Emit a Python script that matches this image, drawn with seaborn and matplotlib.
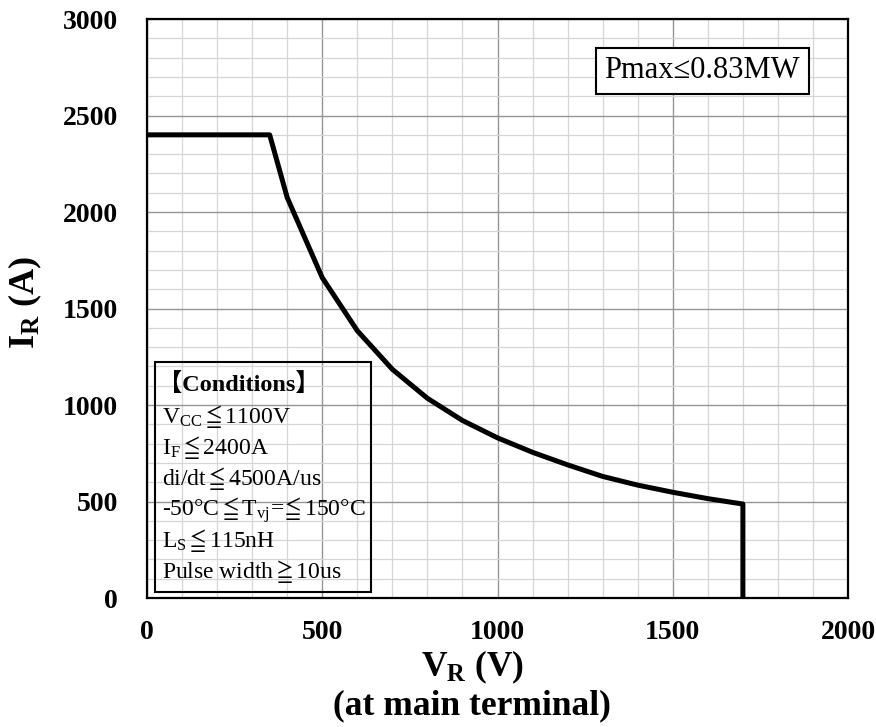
import matplotlib
matplotlib.use("Agg")
import matplotlib.pyplot as plt
import numpy as np
import pandas as pd
import seaborn as sns
from matplotlib.ticker import MultipleLocator
from matplotlib.patches import Rectangle

# ---- data ----
voltage_v = [0, 350, 400, 500, 600, 700, 800, 900, 1000, 1100, 1200, 1300, 1400, 1500, 1600, 1700, 1700]
current_a = [2400, 2400, 2075, 1660, 1385, 1185, 1035, 920, 830, 755, 690, 630, 585, 548, 515, 487, 0]
x_ticks = [0, 500, 1000, 1500, 2000]
y_ticks = [0, 500, 1000, 1500, 2000, 2500, 3000]
pmax_label = "Pmax≤0.83MW"
conditions_title = "【Conditions】"
conditions_lines = [
    r"$\mathregular{V_{CC}\leqq 1100V}$",
    r"$\mathregular{I_{F}\leqq 2400A}$",
    r"$\mathregular{di/dt\leqq 4500A/us}$",
    r"$\mathregular{\text{-}50°C\leqq T_{vj}\!=\!\!\leqq 150°C}$",
    r"$\mathregular{L_{S}\leqq 115nH}$",
    r"$\mathregular{Pulse\ width\geqq 10us}$",
]

sns.set_theme(style="white")
plt.rcParams["font.family"] = ["Liberation Serif", "Noto Sans CJK JP", "DejaVu Sans"]
plt.rcParams["mathtext.fontset"] = "custom"
plt.rcParams["mathtext.rm"] = "Liberation Serif"
plt.rcParams["mathtext.it"] = "Liberation Serif:italic"
plt.rcParams["mathtext.bf"] = "Liberation Serif:bold"
plt.rcParams["mathtext.fallback"] = "stix"
for key in ["text.color", "axes.labelcolor", "xtick.color", "ytick.color", "xtick.labelcolor", "ytick.labelcolor"]:
    plt.rcParams[key] = "black"

df = pd.DataFrame({"V": voltage_v, "I": current_a})

fig = plt.figure(figsize=(8.76, 7.27), dpi=100)
ax = fig.add_axes([0.1678, 0.1774, 0.8003, 0.7964])

ax.xaxis.set_minor_locator(MultipleLocator(100))
ax.yaxis.set_minor_locator(MultipleLocator(100))
ax.grid(which="minor", color="#d6d6d6", linewidth=0.9, zorder=0)
ax.grid(which="major", color="#959595", linewidth=1.0, zorder=0)
ax.set_axisbelow(True)

sns.lineplot(data=df, x="V", y="I", sort=False, estimator=None, color="black",
             linewidth=3.6, ax=ax, zorder=5)

ax.set_xlim(0, 2000)
ax.set_ylim(0, 3000)
ax.set_xticks(x_ticks)
ax.set_yticks(y_ticks)
ax.set_xticklabels([str(t) for t in x_ticks], fontsize=20, fontweight="bold", color="black")
ax.set_yticklabels([str(t) for t in y_ticks], fontsize=20, fontweight="bold", color="black")
ax.tick_params(axis="x", which="both", length=0, pad=16)
ax.tick_params(axis="y", which="both", length=0, pad=21)

for s in ax.spines.values():
    s.set_color("black")
    s.set_linewidth(1.6)
    s.set_visible(True)

ax.set_xlabel(r"$\mathbf{V_{R}}$ (V)" + "\n(at main terminal)", fontsize=25.5,
              fontweight="bold", linespacing=1.1, color="black")
ax.xaxis.set_label_coords(0.4636, -0.088)
ax.set_ylabel(r"$\mathbf{I_{R}}$ (A)", fontsize=26, fontweight="bold", color="black")
ax.yaxis.set_label_coords(-0.147, 0.511)

# Pmax box
ax.text(0.792, 0.911, pmax_label, transform=ax.transAxes, ha="center", va="center",
        fontsize=22, zorder=6, color="black",
        bbox=dict(boxstyle="square,pad=0.28", facecolor="white", edgecolor="black", linewidth=1.5))

# Conditions box
ax.add_patch(Rectangle((0.011, 0.010), 0.309, 0.398, transform=ax.transAxes,
                       fill=False, edgecolor="black", linewidth=1.5, zorder=6))
x0 = 0.0214
y_start = 0.356
step = 0.0535
ax.text(x0 - 0.006, y_start, conditions_title, transform=ax.transAxes, ha="left",
        va="baseline", fontsize=17.5, fontweight="bold", zorder=7, color="black")
for i, line in enumerate(conditions_lines):
    ax.text(x0, y_start - step * (i + 1), line, transform=ax.transAxes, ha="left",
            va="baseline", fontsize=17, zorder=7, color="black")

fig.savefig("out.png", dpi=100)
